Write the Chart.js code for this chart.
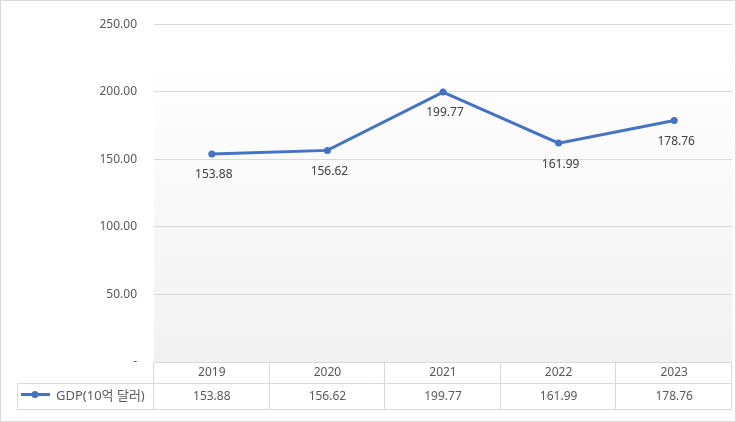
<!DOCTYPE html>
<html>
<head>
<meta charset="utf-8">
<script src="https://cdn.jsdelivr.net/npm/chart.js@4"></script>
<style>
  html, body { margin: 0; padding: 0; background: #ffffff; }
  #wrap { width: 736px; height: 422px; }
</style>
</head>
<body>
<div id="wrap"><canvas id="chart" width="736" height="422"></canvas></div>
<script>
// Data
const years = ['2019', '2020', '2021', '2022', '2023'];
const gdpValues = [153.88, 156.62, 199.77, 161.99, 178.76];
const seriesName = 'GDP(10억 달러)';
const yTickValues = [0, 50, 100, 150, 200, 250];

const FONT = "'Noto Sans', 'Noto Sans CJK KR', sans-serif";
const LINE_BLUE = '#4472C4';
const GRID = '#d9d9d9';
const TEXT = '#595959';

const fmt = (v) => v === 0 ? '-' : v.toFixed(2);

// Plot background, data labels and the data table under the plot
const tablePlugin = {
  id: 'dataTable',
  beforeDraw(chart) {
    const { ctx, chartArea: a } = chart;
    ctx.save();
    ctx.fillStyle = '#ffffff';
    ctx.fillRect(0, 0, chart.width, chart.height);
    const g = ctx.createLinearGradient(0, a.top, 0, a.bottom);
    g.addColorStop(0, '#ffffff');
    g.addColorStop(0.1, '#ffffff');
    g.addColorStop(1, '#f1f1f1');
    ctx.fillStyle = g;
    ctx.fillRect(a.left, a.top, a.right - a.left, a.bottom - a.top);
    ctx.restore();
  },
  afterDraw(chart) {
    const { ctx, chartArea: a } = chart;
    const xs = chart.scales.x;
    const meta = chart.getDatasetMeta(0);
    const colW = (a.right - a.left) / years.length;
    const headTop = Math.round(a.bottom) + 0.5;
    const rowTop = headTop + 21;
    const rowBottom = rowTop + 26;
    const legendLeft = 17.5;

    ctx.save();

    // data labels under each point
    ctx.font = '12px ' + FONT;
    ctx.fillStyle = '#404040';
    ctx.textAlign = 'center';
    ctx.textBaseline = 'middle';
    meta.data.forEach((pt, i) => {
      ctx.fillText(gdpValues[i].toFixed(2), pt.x + 2, pt.y + 21);
    });

    // table grid
    ctx.strokeStyle = GRID;
    ctx.lineWidth = 1;
    ctx.beginPath();
    ctx.moveTo(a.left, headTop); ctx.lineTo(a.right, headTop);
    ctx.moveTo(legendLeft, rowTop); ctx.lineTo(a.right, rowTop);
    ctx.moveTo(legendLeft, rowBottom); ctx.lineTo(a.right, rowBottom);
    ctx.moveTo(legendLeft, rowTop); ctx.lineTo(legendLeft, rowBottom);
    for (let i = 0; i <= years.length; i++) {
      const x = Math.round(a.left + i * colW) - 0.5;
      ctx.moveTo(x, headTop); ctx.lineTo(x, rowBottom);
    }
    ctx.stroke();

    // header + value cells
    ctx.fillStyle = TEXT;
    years.forEach((y, i) => {
      const cx = xs.getPixelForValue(i);
      ctx.fillText(y, cx, headTop + 10.5);
      ctx.fillText(gdpValues[i].toFixed(2), cx, rowTop + 13);
    });

    // legend key in the first cell
    const ly = rowTop + 11;
    ctx.strokeStyle = LINE_BLUE;
    ctx.lineWidth = 3;
    ctx.beginPath();
    ctx.moveTo(21, ly); ctx.lineTo(50, ly);
    ctx.stroke();
    ctx.fillStyle = LINE_BLUE;
    ctx.beginPath();
    ctx.arc(35, ly, 3.5, 0, Math.PI * 2);
    ctx.fill();
    ctx.fillStyle = TEXT;
    ctx.textAlign = 'left';
    ctx.font = '13px ' + FONT;
    ctx.fillText(seriesName, 56, rowTop + 13);

    // outer frame
    ctx.strokeStyle = GRID;
    ctx.lineWidth = 1;
    ctx.strokeRect(0.5, 0.5, chart.width - 1, chart.height - 1);

    ctx.restore();
  }
};

const chart = new Chart(document.getElementById('chart'), {
  type: 'line',
  data: {
    labels: years,
    datasets: [{
      label: seriesName,
      data: gdpValues,
      borderColor: LINE_BLUE,
      backgroundColor: LINE_BLUE,
      borderWidth: 3,
      pointRadius: 3.5,
      pointBackgroundColor: LINE_BLUE,
      pointBorderWidth: 0,
      tension: 0,
      fill: false
    }]
  },
  options: {
    responsive: false,
    animation: false,
    layout: { padding: { top: 20, bottom: 60, right: 1, left: 0 } },
    plugins: {
      legend: { display: false },
      tooltip: { enabled: false }
    },
    scales: {
      x: {
        display: false,
        offset: true
      },
      y: {
        min: 0,
        max: 250,
        afterFit: (scale) => { scale.width = 154; },
        afterBuildTicks: (scale) => {
          scale.ticks = yTickValues.map((v) => ({ value: v }));
        },
        border: { display: false },
        grid: { color: GRID, drawTicks: false, lineWidth: 1 },
        ticks: {
          padding: 17,
          color: TEXT,
          font: { family: FONT, size: 12 },
          callback: (v) => fmt(v)
        }
      }
    }
  },
  plugins: [tablePlugin]
});
</script>
</body>
</html>
